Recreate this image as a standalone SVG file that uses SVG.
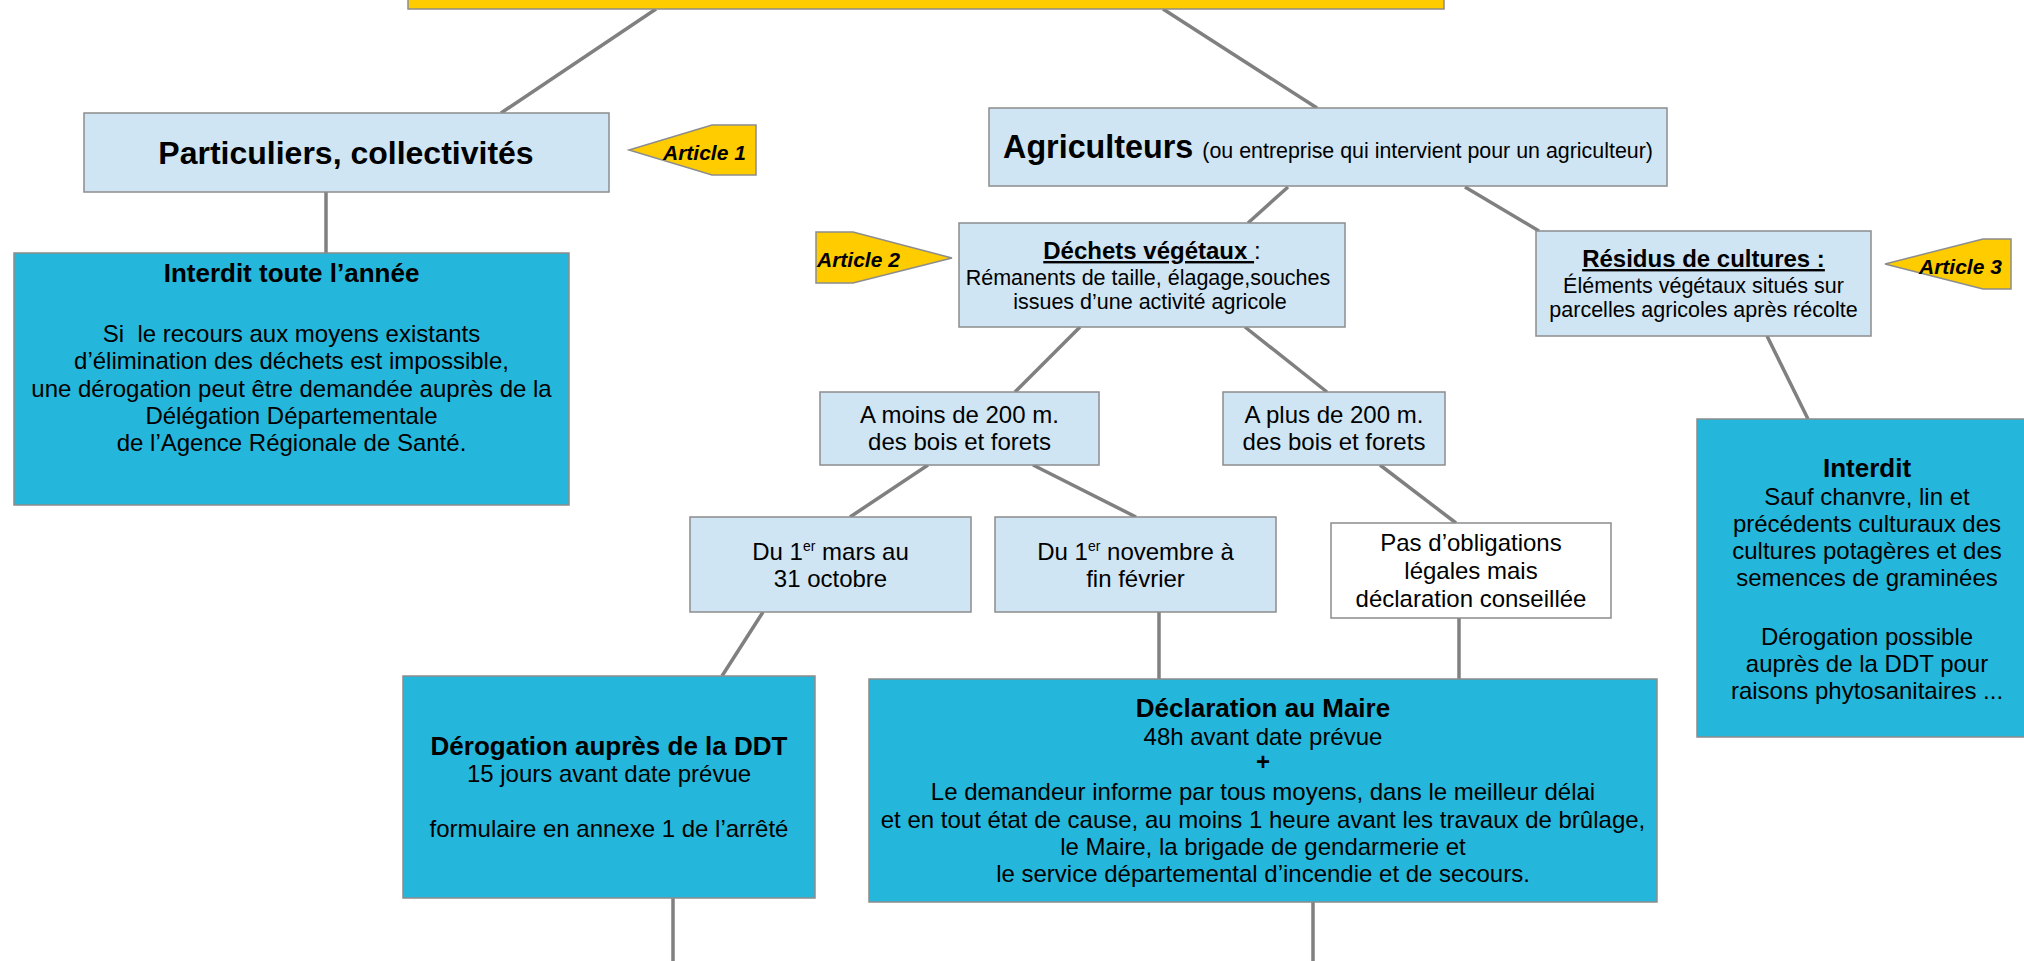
<svg xmlns="http://www.w3.org/2000/svg" width="2024" height="961" viewBox="0 0 2024 961">
<style>
text { font-family: "Liberation Sans", Arial, sans-serif; fill: #000; }
.lb { fill: #CFE5F3; stroke: #8C8C8C; stroke-width: 1.5; }
.cy { fill: #25B6DB; stroke: #8C8C8C; stroke-width: 1.5; }
.wh { fill: #FFFFFF; stroke: #8C8C8C; stroke-width: 1.5; }
.ye { fill: #FFCC00; stroke: #8C8C8C; stroke-width: 1.5; }
.c { text-anchor: middle; }
.t24 { font-size: 24px; }
.t21 { font-size: 21.5px; }
.b { font-weight: bold; }
.h26 { font-size: 26px; font-weight: bold; }
.art { font-size: 21px; font-weight: bold; font-style: italic; }
.sup { font-size: 14px; }
#connectors line { stroke: #808080; stroke-width: 3.5; }
</style>

<g id="connectors">
  <line x1="656" y1="9" x2="501" y2="113"/>
  <line x1="1163" y1="9" x2="1317" y2="108"/>
  <line x1="326" y1="192" x2="326" y2="253"/>
  <line x1="1288" y1="187" x2="1248" y2="223"/>
  <line x1="1465" y1="187" x2="1539" y2="231"/>
  <line x1="1767" y1="336" x2="1808" y2="419"/>
  <line x1="1080" y1="327" x2="1015" y2="392"/>
  <line x1="1245" y1="327" x2="1327" y2="392"/>
  <line x1="928" y1="465" x2="850" y2="517"/>
  <line x1="1033" y1="465" x2="1136" y2="517"/>
  <line x1="1380" y1="465" x2="1456" y2="523"/>
  <line x1="763" y1="612" x2="722" y2="676"/>
  <line x1="1159" y1="612" x2="1159" y2="679"/>
  <line x1="1459" y1="618" x2="1459" y2="679"/>
  <line x1="673" y1="898" x2="673" y2="965"/>
  <line x1="1313" y1="902" x2="1313" y2="965"/>
</g>

<g id="top">
  <rect class="ye" x="408" y="-30" width="1036" height="39"/>
</g>

<g id="particuliers">
  <rect class="lb" x="84" y="113" width="525" height="79"/>
  <text class="c b" x="346" y="164" font-size="32">Particuliers, collectivités</text>
</g>

<g id="article1">
  <polygon class="ye" points="629,150 712,125 756,125 756,175 712,175"/>
  <text class="art" x="663" y="160">Article 1</text>
</g>

<g id="agriculteurs">
  <rect class="lb" x="989" y="108" width="678" height="78"/>
  <text class="c" x="1328" y="158"><tspan class="b" font-size="32.3">Agriculteurs </tspan><tspan font-size="21.4">(ou entreprise qui intervient pour un agriculteur)</tspan></text>
</g>

<g id="interdit-annee">
  <rect class="cy" x="14" y="253" width="555" height="252"/>
  <text class="c h26" x="291.5" y="282">Interdit toute l’année</text>
  <text class="c t24" x="291.5" y="342" xml:space="preserve">Si  le recours aux moyens existants</text>
  <text class="c t24" x="291.5" y="369">d’élimination des déchets est impossible,</text>
  <text class="c t24" x="291.5" y="397">une dérogation peut être demandée auprès de la</text>
  <text class="c t24" x="291.5" y="424">Délégation Départementale</text>
  <text class="c t24" x="291.5" y="451">de l’Agence Régionale de Santé.</text>
</g>

<g id="article2">
  <polygon class="ye" points="816,232 853,232 952,258 853,283 816,283"/>
  <text class="art" x="817" y="267">Article 2</text>
</g>

<g id="dechets">
  <rect class="lb" x="959" y="223" width="386" height="104"/>
  <text class="c t24" x="1152" y="259" xml:space="preserve"><tspan class="b" text-decoration="underline">Déchets végétaux </tspan><tspan>:</tspan></text>
  <text class="c t21" x="1148" y="285">Rémanents de taille, élagage,souches</text>
  <text class="c t21" x="1150" y="309">issues d’une activité agricole</text>
</g>

<g id="residus">
  <rect class="lb" x="1536" y="231" width="335" height="105"/>
  <text class="c t24 b" x="1703.5" y="267" text-decoration="underline">Résidus de cultures :</text>
  <text class="c t21" x="1703.5" y="293">Éléments végétaux situés sur</text>
  <text class="c t21" x="1703.5" y="317">parcelles agricoles après récolte</text>
</g>

<g id="article3">
  <polygon class="ye" points="1885,264 1983,239 2011,239 2011,289 1983,289"/>
  <text class="art" x="1919" y="274">Article 3</text>
</g>

<g id="moins200">
  <rect class="lb" x="820" y="392" width="279" height="73"/>
  <text class="c t24" x="959.5" y="423">A moins de 200 m.</text>
  <text class="c t24" x="959.5" y="450">des bois et forets</text>
</g>

<g id="plus200">
  <rect class="lb" x="1223" y="392" width="222" height="73"/>
  <text class="c t24" x="1334" y="423">A plus de 200 m.</text>
  <text class="c t24" x="1334" y="450">des bois et forets</text>
</g>

<g id="interdit-residus">
  <rect class="cy" x="1697" y="419" width="345" height="318"/>
  <text class="c h26" x="1867" y="477">Interdit</text>
  <text class="c t24" x="1867" y="505">Sauf chanvre, lin et</text>
  <text class="c t24" x="1867" y="532">précédents culturaux des</text>
  <text class="c t24" x="1867" y="559">cultures potagères et des</text>
  <text class="c t24" x="1867" y="586">semences de graminées</text>
  <text class="c t24" x="1867" y="645">Dérogation possible</text>
  <text class="c t24" x="1867" y="672">auprès de la DDT pour</text>
  <text class="c t24" x="1867" y="699">raisons phytosanitaires ...</text>
</g>

<g id="mars-octobre">
  <rect class="lb" x="690" y="517" width="281" height="95"/>
  <text class="c t24" x="830.5" y="560">Du 1<tspan class="sup" dy="-9">er</tspan><tspan dy="9"> mars au</tspan></text>
  <text class="c t24" x="830.5" y="587">31 octobre</text>
</g>

<g id="novembre-fevrier">
  <rect class="lb" x="995" y="517" width="281" height="95"/>
  <text class="c t24" x="1135.5" y="560">Du 1<tspan class="sup" dy="-9">er</tspan><tspan dy="9"> novembre à</tspan></text>
  <text class="c t24" x="1135.5" y="587">fin février</text>
</g>

<g id="pas-obligations">
  <rect class="wh" x="1331" y="523" width="280" height="95"/>
  <text class="c t24" x="1471" y="551">Pas d’obligations</text>
  <text class="c t24" x="1471" y="579">légales mais</text>
  <text class="c t24" x="1471" y="607">déclaration conseillée</text>
</g>

<g id="derogation-ddt">
  <rect class="cy" x="403" y="676" width="412" height="222"/>
  <text class="c h26" x="609" y="755">Dérogation auprès de la DDT</text>
  <text class="c t24" x="609" y="782">15 jours avant date prévue</text>
  <text class="c t24" x="609" y="837">formulaire en annexe 1 de l’arrêté</text>
</g>

<g id="declaration-maire">
  <rect class="cy" x="869" y="679" width="788" height="223"/>
  <text class="c h26" x="1263" y="717">Déclaration au Maire</text>
  <text class="c t24" x="1263" y="745">48h avant date prévue</text>
  <text class="c t24 b" x="1263" y="770">+</text>
  <text class="c t24" x="1263" y="800">Le demandeur informe par tous moyens, dans le meilleur délai</text>
  <text class="c t24" x="1263" y="828">et en tout état de cause, au moins 1 heure avant les travaux de brûlage,</text>
  <text class="c t24" x="1263" y="855">le Maire, la brigade de gendarmerie et</text>
  <text class="c t24" x="1263" y="882">le service départemental d’incendie et de secours.</text>
</g>
</svg>
